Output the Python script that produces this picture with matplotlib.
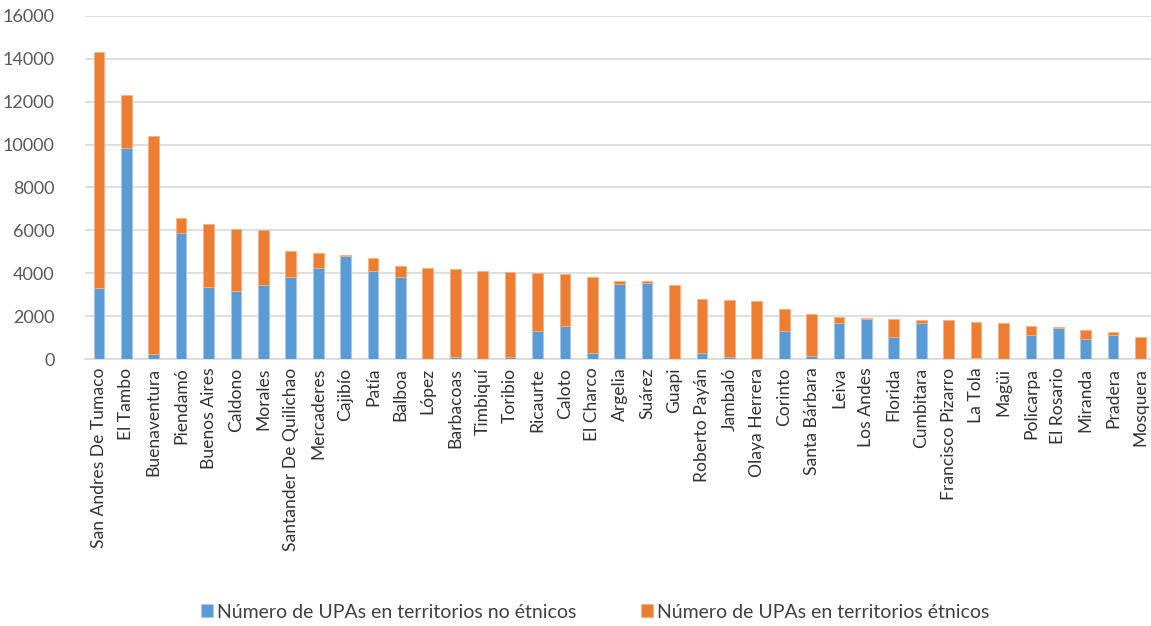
import matplotlib.pyplot as plt
import numpy as np

plt.rcParams['font.family'] = ['Lato', 'DejaVu Sans']

# municipios y numero de UPAs
municipios = ['San Andres De Tumaco', 'El Tambo', 'Buenaventura', 'Piendamó', 'Buenos Aires',
              'Caldono', 'Morales', 'Santander De Quilichao', 'Mercaderes', 'Cajibío',
              'Patía', 'Balboa', 'López', 'Barbacoas', 'Timbiquí', 'Toribio', 'Ricaurte',
              'Caloto', 'El Charco', 'Argelia', 'Suárez', 'Guapi', 'Roberto Payán', 'Jambaló',
              'Olaya Herrera', 'Corinto', 'Santa Bárbara', 'Leiva', 'Los Andes', 'Florida',
              'Cumbitara', 'Francisco Pizarro', 'La Tola', 'Magüi', 'Policarpa', 'El Rosario',
              'Miranda', 'Pradera', 'Mosquera']

no_etnicos = [3320, 9850, 250, 5890, 3360, 3160, 3440, 3830, 4250, 4800,
              4110, 3820, 20, 110, 0, 110, 1310, 1570, 280, 3490,
              3550, 0, 280, 110, 20, 1340, 160, 1710, 1880, 1030,
              1670, 0, 80, 10, 1150, 1450, 965, 1120, 0]

totales = [14300, 12320, 10400, 6560, 6310, 6090, 6040, 5050, 4970, 4875,
           4700, 4360, 4250, 4220, 4130, 4080, 4035, 3990, 3830, 3660,
           3630, 3460, 2820, 2770, 2710, 2350, 2120, 1960, 1930, 1900,
           1850, 1810, 1730, 1680, 1570, 1500, 1355, 1290, 1030]

etnicos = [t - n for t, n in zip(totales, no_etnicos)]

azul = '#5b9bd5'
naranja = '#ed7d31'

fig = plt.figure(figsize=(11.51, 6.26), dpi=100)
ax = fig.add_axes([0.074, 0.426, 0.930, 0.549])

x = np.arange(len(municipios))
ax.bar(x, no_etnicos, width=0.39, color=azul, edgecolor='#a9c8ea', linewidth=0.6,
       label='Número de UPAs en territorios no étnicos', zorder=3)
ax.bar(x, etnicos, width=0.39, bottom=no_etnicos, color=naranja, edgecolor='#f4b183',
       linewidth=0.6, label='Número de UPAs en territorios étnicos', zorder=3)

ax.set_ylim(0, 16000)
ax.set_yticks(range(0, 16001, 2000))
ax.set_xlim(-0.5, len(municipios) - 0.5 + 0.05)
ax.set_xticks(x)
ax.set_xticklabels(municipios, rotation=90, fontsize=12.6, color='#333333')
ax.tick_params(axis='y', labelsize=13, labelcolor='#595959', length=0, pad=22)
ax.tick_params(axis='x', length=0, pad=6)
ax.grid(axis='y', color='#d9d9d9', linewidth=1.2, zorder=0)
for s in ['top', 'right', 'left']:
    ax.spines[s].set_visible(False)
ax.spines['bottom'].set_color('#d9d9d9')
ax.spines['bottom'].set_linewidth(1.2)

fig.legend(loc='center', bbox_to_anchor=(0.517, 0.022), ncol=2, frameon=False,
           fontsize=14, handlelength=0.65, handleheight=0.65, handletextpad=0.2,
           columnspacing=3.3, labelcolor='#404040')

fig.savefig('out.png', dpi=100)
